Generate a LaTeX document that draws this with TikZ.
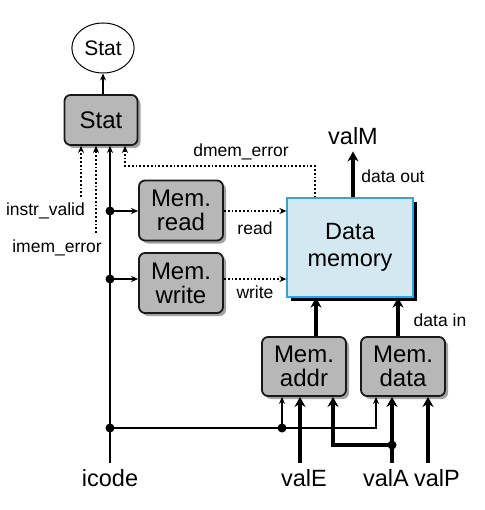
\documentclass[tikz,border=0pt]{standalone}
\usepackage{fontspec}
\setmainfont{Liberation Sans}
\usetikzlibrary{arrows.meta,shadows,shapes.geometric}
\definecolor{boxgray}{HTML}{B7B7B7}
\definecolor{memblue}{HTML}{D3E8F1}
\definecolor{memedge}{HTML}{2BA6DE}

\tikzset{
  unit/.style={draw=black!90, line width=1.8pt, fill=boxgray, rounded corners=6pt,
    minimum width=84pt, minimum height=60pt, align=center, inner sep=2pt,
    font=\fontsize{24}{24}\selectfont,
    drop shadow={shadow xshift=3pt, shadow yshift=-3pt, fill=black!45, opacity=.8}},
  datamem/.style={draw=memedge, line width=1.2pt, fill=memblue,
    minimum width=126pt, minimum height=99pt, align=center,
    font=\fontsize{23.5}{27}\selectfont,
    drop shadow={shadow xshift=4pt, shadow yshift=-4pt, fill=black, opacity=1}},
  big/.style={font=\fontsize{23.5}{24}\selectfont, inner sep=6pt},
  sig/.style={font=\fontsize{17.5}{18}\selectfont, inner sep=2pt},
  wire/.style={line width=1.3pt, -{Stealth[length=7pt, width=6pt]}},
  bus/.style={line width=4pt, -{Stealth[length=10pt, width=11pt]}},
  dots/.style={line width=1.8pt, dash pattern=on 1.8pt off 2pt, -{Stealth[length=7pt, width=6pt]}},
  joint/.style={circle, fill=black, inner sep=0pt, minimum size=9pt}
}

\begin{document}
\begin{tikzpicture}[x=1pt, y=-1pt]
    \useasboundingbox (0,0) rectangle (484,510);

    % Nodes
    \node [draw, ellipse, line width=1pt, minimum width=60pt, minimum height=50pt,
           font=\fontsize{21}{21}\selectfont] (statout) at (103,48) {Stat};
    \node [unit, minimum width=73pt, minimum height=50pt] (stat) at (101,120) {Stat};
    \node [unit] (memread) at (181,210.5) {Mem.\\read};
    \node [unit] (memwrite) at (181,283) {Mem.\\write};
    \node [datamem] (mem) at (350,247.5) {Data\\memory};
    \node [unit, minimum height=59pt] (memaddr) at (304,366.5) {Mem.\\addr};
    \node [unit, minimum height=59pt] (memdata) at (403,366.5) {Mem.\\data};

    % Inputs and outputs
    \node [big, anchor=base] (icode) at (110,486) {icode};
    \node [big, anchor=base] (valE) at (304,486) {valE};
    \node [big, anchor=base] (valA) at (386,486) {valA};
    \node [big, anchor=base] (valP) at (437,486) {valP};
    \node [big, anchor=base] (valM) at (353,145) {valM};

    % Signal labels
    \node [sig, anchor=base east] (instrvalid) at (87,216) {instr\_valid};
    \node [sig, anchor=base east] (imemerror) at (104,252) {imem\_error};
    \node [sig] (dmemerror) at (241,152) {dmem\_error};
    \node [sig] (readlbl) at (255,228) {read};
    \node [sig] (writelbl) at (255,292) {write};
    \node [sig] (dataout) at (393,176) {data out};
    \node [sig] (datain) at (440,320) {data in};

    % Junctions
    \coordinate (ivend) at (81,197);
    \coordinate (ieend) at (96,233);
    \coordinate (jread) at (110,211);
    \coordinate (jwrite) at (110,279);
    \coordinate (jbus) at (110,428);
    \coordinate (jaddr) at (282,428);
    \coordinate (busend) at (376,428);
    \coordinate (dmemtop) at (315,166);
    \coordinate (dmemturn) at (125,166);
    \coordinate (jvalE) at (300,445);
    \coordinate (jvalA) at (392,445);
    \coordinate (jvalP) at (428,445);
    \coordinate (abend) at (333,445);

    % Draw the links
    \draw [wire] (stat.north -| statout) -- (statout.south);
    \draw [wire] (icode.north) -- (icode.north |- stat.south);
    \draw [dots] (ivend) -- (ivend |- stat.south);
    \draw [dots] (ieend) -- (ieend |- stat.south);
    \draw [dots] (mem.north -| dmemtop) -- (dmemtop) -- (dmemturn) -- (dmemturn |- stat.south);
    \draw [wire] (jread) -- (jread -| memread.west);
    \draw [wire] (jwrite) -- (jwrite -| memwrite.west);
    \draw [dots] (jread -| memread.east) -- (jread -| mem.west);
    \draw [dots] (jwrite -| memwrite.east) -- (jwrite -| mem.west);
    \draw [wire] (jbus) -- (busend) -- (busend |- memdata.south);
    \draw [wire] (jaddr) -- (jaddr |- memaddr.south);

    \draw [bus] (mem.north -| valM) -- (valM.south);
    \draw [bus] (memaddr.north -| 316,0) -- (mem.south -| 316,0);
    \draw [bus] (memdata.north -| 398,0) -- (mem.south -| 398,0);
    \draw [bus] (valE.north -| jvalE) -- (jvalE |- memaddr.south);
    \draw [bus] (valA.north -| jvalA) -- (jvalA |- memdata.south);
    \draw [bus] (valP.north -| jvalP) -- (jvalP |- memdata.south);
    \draw [bus, line join=miter] (jvalA) -- (abend) -- (abend |- memaddr.south);

    \node [joint] at (jread) {};
    \node [joint] at (jwrite) {};
    \node [joint] at (jbus) {};
    \node [joint] at (jaddr) {};
    \node [joint] at (jvalA) {};
\end{tikzpicture}
\end{document}
